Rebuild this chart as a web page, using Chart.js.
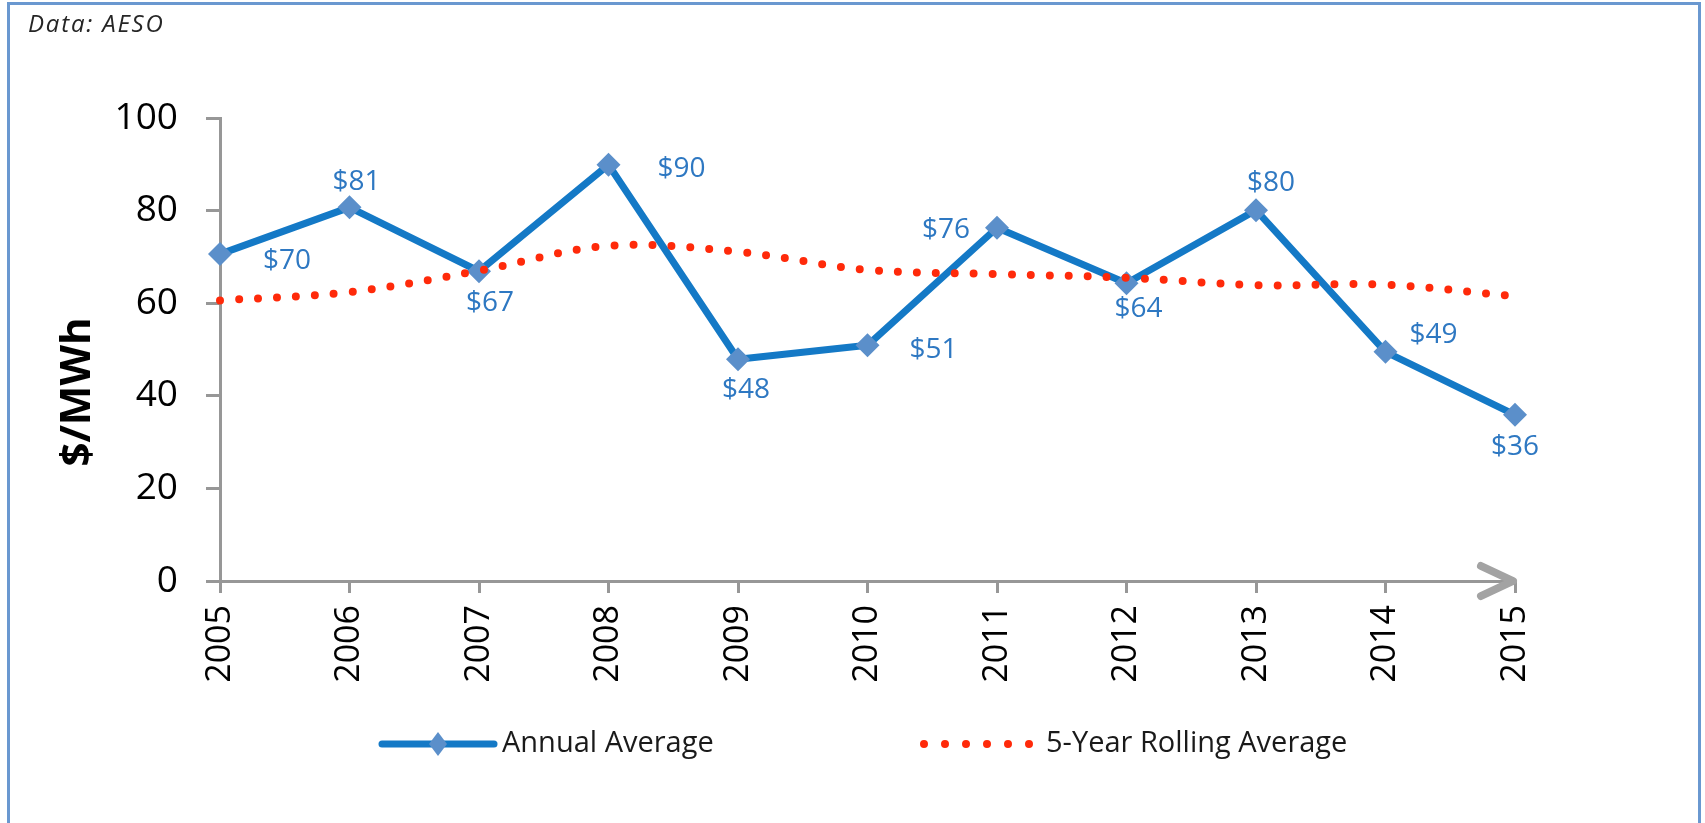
<!DOCTYPE html>
<html>
<head>
<meta charset="utf-8">
<title>Pool price - annual average</title>
<script src="https://cdn.jsdelivr.net/npm/chart.js@4.4.1/dist/chart.umd.min.js"></script>
<style>
  body { margin: 0; background: #fff; overflow: hidden; }
  #wrap { position: relative; width: 1705px; height: 823px; }
  #frame { position: absolute; left: 7px; top: 2px; width: 1688px; height: 900px; border: 3px solid #6a98d0; border-bottom: none; pointer-events: none; }
  #source { position: absolute; left: 28px; top: 6px; font: italic 24px 'Open Sans', sans-serif; letter-spacing: 1.8px; color: #262626; }
</style>
</head>
<body>
<div id="wrap">
  <canvas id="priceChart" width="1705" height="823"></canvas>
  <div id="frame"></div>
  <div id="source">Data: AESO</div>
</div>
<script>
// Chart data
const years = ['2005', '2006', '2007', '2008', '2009', '2010', '2011', '2012', '2013', '2014', '2015'];
const annualAverage = [70.6, 80.7, 66.9, 89.9, 47.9, 50.9, 76.3, 64.3, 80.1, 49.5, 35.9];
const rollingAverage = [60.6, 62.4, 67.0, 72.4, 71.1, 67.2, 66.3, 65.5, 63.9, 64.0, 61.5];
const priceLabels = ['$70', '$81', '$67', '$90', '$48', '$51', '$76', '$64', '$80', '$49', '$36'];
const seriesNames = ['Annual Average', '5-Year Rolling Average'];
const yAxisTitle = '$/MWh';

// where each price label sits relative to its marker (px)
const labelOffsets = [[67, 7], [7, -25], [11, 32], [73, 4], [8, 31], [66, 5], [-51, 2], [12, 26], [15, -27], [48, -17], [0, 32]];

const BLUE = '#1479c6';
const MARKER = '#5b8fca';
const LABEL_BLUE = '#2e78c2';
const RED = '#ff2a0a';
const AXIS_GREY = '#979797';
const FONT = "'Open Sans', sans-serif";

// Price labels next to the annual markers
const priceLabelPlugin = {
    id: 'priceLabels',
    afterDatasetsDraw(chart) {
        const meta = chart.getDatasetMeta(1);
        const ctx = chart.ctx;
        ctx.save();
        ctx.font = `28px ${FONT}`;
        ctx.fillStyle = LABEL_BLUE;
        ctx.textAlign = 'center';
        ctx.textBaseline = 'middle';
        meta.data.forEach((pt, i) => {
            const [dx, dy] = labelOffsets[i];
            ctx.fillText(priceLabels[i], pt.x + dx, pt.y + dy);
        });
        ctx.restore();
    }
};

// Arrow head on the x axis, y axis title and legend
const decorPlugin = {
    id: 'decor',
    afterDraw(chart) {
        const ctx = chart.ctx;
        const x = chart.scales.x;
        const y = chart.scales.y;
        const tipX = x.getPixelForValue(years.length - 1) - 2;
        const axisY = y.getPixelForValue(0);

        ctx.save();
        ctx.strokeStyle = '#a3a3a3';
        ctx.lineWidth = 8;
        ctx.lineCap = 'round';
        ctx.lineJoin = 'round';
        ctx.beginPath();
        ctx.moveTo(tipX - 32, axisY - 15);
        ctx.lineTo(tipX, axisY);
        ctx.lineTo(tipX - 32, axisY + 15);
        ctx.stroke();

        // y axis title
        ctx.translate(78, 392);
        ctx.rotate(-Math.PI / 2);
        ctx.font = `bold 42px ${FONT}`;
        ctx.fillStyle = '#000';
        ctx.textAlign = 'center';
        ctx.textBaseline = 'middle';
        ctx.fillText(yAxisTitle, 0, 0);
        ctx.restore();

        // legend
        const ly = 744;
        ctx.save();
        ctx.strokeStyle = BLUE;
        ctx.lineWidth = 7;
        ctx.lineCap = 'round';
        ctx.beginPath();
        ctx.moveTo(382, ly);
        ctx.lineTo(494, ly);
        ctx.stroke();
        ctx.fillStyle = MARKER;
        ctx.beginPath();
        ctx.moveTo(438, ly - 12);
        ctx.lineTo(447, ly);
        ctx.lineTo(438, ly + 12);
        ctx.lineTo(429, ly);
        ctx.closePath();
        ctx.fill();

        ctx.strokeStyle = RED;
        ctx.lineWidth = 8;
        ctx.setLineDash([0, 21]);
        ctx.beginPath();
        ctx.moveTo(924, ly);
        ctx.lineTo(1032, ly);
        ctx.stroke();
        ctx.setLineDash([]);

        ctx.font = `29px ${FONT}`;
        ctx.fillStyle = '#1a1a1a';
        ctx.textBaseline = 'middle';
        ctx.fillText(seriesNames[0], 502, ly, 218);
        ctx.fillText(seriesNames[1], 1046, ly, 311);
        ctx.restore();
    }
};

const ctx = document.getElementById('priceChart').getContext('2d');
const priceChart = new Chart(ctx, {
    type: 'line',
    data: {
        labels: years,
        datasets: [
            {
                label: seriesNames[1],
                data: rollingAverage,
                borderColor: RED,
                borderWidth: 8,
                borderDash: [0, 19],
                borderCapStyle: 'round',
                tension: 0.35,
                pointRadius: 0,
                fill: false,
                order: 0
            },
            {
                label: seriesNames[0],
                data: annualAverage,
                borderColor: BLUE,
                borderWidth: 7,
                borderJoinStyle: 'round',
                pointStyle: 'rectRot',
                pointRadius: 12,
                pointBackgroundColor: MARKER,
                pointBorderWidth: 0,
                fill: false,
                order: 1
            }
        ]
    },
    options: {
        responsive: false,
        animation: false,
        events: [],
        layout: {
            padding: { left: 0, top: 118, right: 190, bottom: 0 }
        },
        plugins: {
            legend: { display: false },
            tooltip: { enabled: false }
        },
        scales: {
            x: {
                offset: false,
                grid: {
                    offset: false,
                    drawOnChartArea: false,
                    drawTicks: true,
                    tickLength: 12,
                    color: AXIS_GREY,
                    lineWidth: 3
                },
                border: { color: AXIS_GREY, width: 3 },
                ticks: {
                    minRotation: 90,
                    maxRotation: 90,
                    padding: 12,
                    color: '#000',
                    font: { family: FONT, size: 34 }
                },
                afterFit(scale) { scale.height = 242; }
            },
            y: {
                min: 0,
                max: 100,
                grid: {
                    drawOnChartArea: false,
                    drawTicks: true,
                    tickLength: 14,
                    color: AXIS_GREY,
                    lineWidth: 3
                },
                border: { color: AXIS_GREY, width: 3 },
                ticks: {
                    stepSize: 20,
                    padding: 28,
                    color: '#000',
                    font: { family: FONT, size: 37 }
                },
                afterFit(scale) { scale.width = 220; }
            }
        }
    },
    plugins: [priceLabelPlugin, decorPlugin]
});
</script>
</body>
</html>
